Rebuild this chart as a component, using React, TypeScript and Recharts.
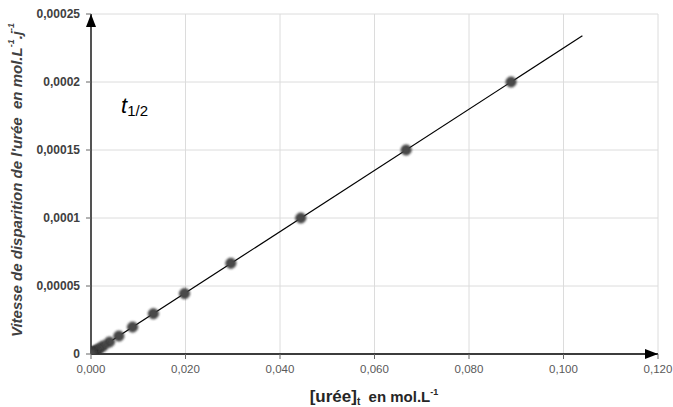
import React from 'react';
import { ComposedChart, Scatter, Line, XAxis, YAxis, CartesianGrid } from 'recharts';

// mesures : [urée]t et vitesse de disparition
const ureeValues = [0.0889, 0.0667, 0.0444, 0.0296, 0.0198, 0.0132, 0.0088, 0.0059, 0.0039, 0.0026, 0.0017, 0.0012, 0.0008, 0.0005, 0.0003, 0.0002, 0.0001, 0.00005, 0.00002];
const vitesseValues = [0.0002, 0.00015, 0.0001, 0.0000667, 0.0000444, 0.0000296, 0.0000198, 0.0000132, 0.0000088, 0.0000059, 0.0000039, 0.0000026, 0.0000017, 0.0000012, 0.0000008, 0.0000005, 0.0000002, 0.0000001, 0.00000005];

// droite de tendance
const trendX = [0, 0.104];
const trendY = [0, 0.000234];

const xTicks = [0, 0.02, 0.04, 0.06, 0.08, 0.1, 0.12];
const yTicks = [0, 0.00005, 0.0001, 0.00015, 0.0002, 0.00025];

const points = ureeValues.map((x, i) => ({ x, y: vitesseValues[i] }));
const trend = trendX.map((x, i) => ({ x, y: trendY[i] }));

const fmtX = (v: number) => v.toFixed(3).replace('.', ',');
const fmtY = (v: number) => (v === 0 ? '0' : String(Number(v.toFixed(5))).replace('.', ','));

const Dot = (props: any) => {
  const { cx, cy } = props;
  if (cx == null || cy == null) return null;
  return <circle cx={cx} cy={cy} r={5} fill="#4a4a4a" stroke="#2a2a2a" strokeWidth={1} filter="url(#soft)" />;
};

const YTitle = () => (
  <text
    x={18}
    y={180}
    transform="rotate(-90 18 180)"
    textAnchor="middle"
    dominantBaseline="middle"
    fontFamily="Liberation Sans, Arial, sans-serif"
    fontSize={15}
    fontWeight="bold"
    fontStyle="italic"
    fill="#404040"
  >
    Vitesse de disparition de l'urée{'\u00a0\u00a0'}en mol.L
    <tspan fontSize={9} dy={-6}>-1</tspan>
    <tspan dy={6}>.j</tspan>
    <tspan fontSize={9} dy={-6}>-1</tspan>
  </text>
);

const XTitle = () => (
  <text
    x={374}
    y={402}
    textAnchor="middle"
    fontFamily="Liberation Sans, Arial, sans-serif"
    fontWeight="bold"
    fill="#262626"
  >
    <tspan fontSize={17}>[urée]</tspan>
    <tspan fontSize={10} dy={3}>t</tspan>
    <tspan fontSize={15} dy={-3}>{'\u00a0\u00a0'}en mol.L</tspan>
    <tspan fontSize={9} dy={-7}>-1</tspan>
  </text>
);

export default function App() {
  return (
    <div style={{ position: 'relative', width: 673, height: 407, background: '#fff' }}>
      <style>{`body{margin:0}`}</style>
      <svg width="0" height="0" style={{ position: 'absolute' }}>
        <defs>
          <marker id="arrow" markerUnits="userSpaceOnUse" markerWidth={14} markerHeight={10} refX={13} refY={5} orient="auto-start-reverse">
            <path d="M0,0 L13,5 L0,10 z" fill="#000" />
          </marker>
          <filter id="soft" x="-50%" y="-50%" width="200%" height="200%">
            <feGaussianBlur stdDeviation={0.8} />
          </filter>
        </defs>
      </svg>
      <ComposedChart width={673} height={407} margin={{ top: 14, right: 15, bottom: 0, left: 0 }}>
        <CartesianGrid stroke="#dcdcdc" strokeWidth={1} />
        <XAxis
          type="number"
          dataKey="x"
          domain={[0, 0.12]}
          ticks={xTicks}
          tickFormatter={fmtX}
          height={53}
          tickSize={5}
          tickMargin={6}
          axisLine={{ stroke: '#000', strokeWidth: 1.3, markerEnd: 'url(#arrow)' }}
          tickLine={{ stroke: '#666' }}
          tick={{ fill: '#595959', fontSize: 11.5, fontFamily: 'Liberation Sans, Arial, sans-serif' }}
          label={<XTitle />}
          allowDataOverflow
        />
        <YAxis
          type="number"
          dataKey="y"
          domain={[0, 0.00025]}
          ticks={yTicks}
          tickFormatter={fmtY}
          width={91}
          tickSize={5}
          tickMargin={6}
          axisLine={{ stroke: '#000', strokeWidth: 1.3, markerStart: 'url(#arrow)' }}
          tickLine={{ stroke: '#666' }}
          tick={{ fill: '#404040', fontSize: 12, fontWeight: 'bold', fontFamily: 'Liberation Sans, Arial, sans-serif' }}
          label={<YTitle />}
          allowDataOverflow
        />
        <Line
          data={trend}
          dataKey="y"
          type="linear"
          stroke="#000"
          strokeWidth={1.2}
          dot={false}
          activeDot={false}
          isAnimationActive={false}
        />
        <Scatter data={points} dataKey="y" shape={<Dot />} isAnimationActive={false} />
      </ComposedChart>
      <div
        style={{
          position: 'absolute',
          left: 121,
          top: 93,
          fontFamily: 'Liberation Sans, Arial, sans-serif',
          color: '#000',
          whiteSpace: 'nowrap',
        }}
      >
        <span style={{ fontSize: 22, fontStyle: 'italic' }}>t</span>
        <span style={{ fontSize: 15, position: 'relative', top: 3 }}>1/2</span>
      </div>
    </div>
  );
}
